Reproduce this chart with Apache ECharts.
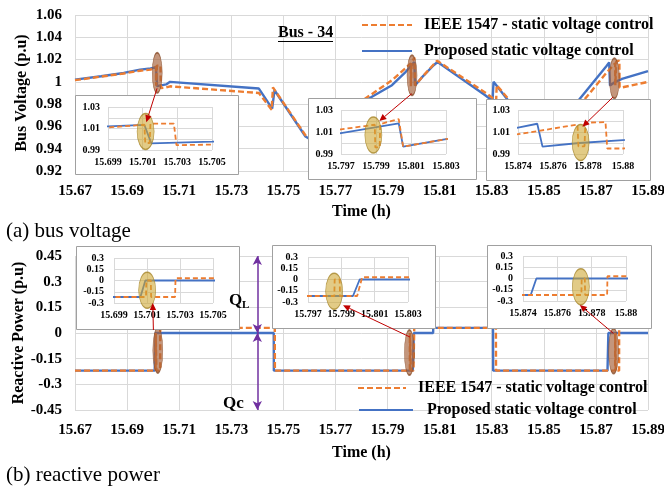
<!DOCTYPE html>
<html><head><meta charset="utf-8">
<script src="https://cdn.jsdelivr.net/npm/echarts@6/dist/echarts.min.js"></script>
<style>html,body{margin:0;padding:0;background:#fff}#c{width:664px;height:487px}</style>
</head><body><div id="c"></div>
<script>
// ---------------- DATA ----------------
const IEEE = 'IEEE 1547 - static voltage control';
const PROP = 'Proposed static voltage control';
const voltageAxisTitle = 'Bus Voltage (p.u)';
const reactiveAxisTitle = 'Reactive Power (p.u)';

const mainTimeTicks = [15.67,15.69,15.71,15.73,15.75,15.77,15.79,15.81,15.83,15.85,15.87,15.89];
const voltageTicks = [0.92,0.94,0.96,0.98,1.00,1.02,1.04,1.06];
const reactiveTicks = [-0.45,-0.3,-0.15,0,0.15,0.3,0.45];
const insetTimeTicks1 = [15.699,15.701,15.703,15.705];
const insetTimeTicks2 = [15.797,15.799,15.801,15.803];
const insetTimeTicks3 = [15.874,15.876,15.878,15.88];
const insetVoltageTicks = [0.99,1.01,1.03];
const insetVoltageGrid = [0.99,1.00,1.01,1.02,1.03];
const insetReactiveTicks = [-0.3,-0.15,0,0.15,0.3];

// Bus voltage (p.u) — [time (h), value]
const voltageProposed = [
  [15.670,1.002],[15.680,1.005],[15.6887,1.008],[15.695,1.011],[15.699,1.012],
  [15.7011,1.0133],[15.7015,0.9962],[15.705,0.9977],[15.7065,1.000],
  [15.7406,0.994],[15.7457,0.976],[15.7466,0.9925],[15.7585,0.951],
  [15.7620,0.946],[15.7700,0.963],[15.7820,0.984],[15.7917,0.997],
  [15.797,1.009],[15.8003,1.0179],[15.80055,0.9967],[15.803,1.0035],
  [15.8077,1.0149],[15.8080,1.0140],[15.8092,1.0178],[15.8275,0.988],
  [15.8303,0.983],[15.8307,1.000],[15.8364,0.983],[15.8445,0.957],
  [15.8632,0.983],[15.874,1.014],[15.8751,1.0175],[15.8754,0.9967],
  [15.8775,1.000],[15.880,1.0027],[15.890,1.0097]
];
const voltageIEEE = [
  [15.670,1.0015],[15.6887,1.0075],[15.695,1.0100],[15.699,1.011],
  [15.7011,1.0135],[15.70115,0.9965],[15.7014,0.9965],[15.70145,1.0146],
  [15.7028,1.0146],[15.70295,0.9945],[15.705,0.9950],[15.7065,0.996],
  [15.7406,0.990],[15.7455,0.975],[15.7460,0.995],[15.7585,0.952],
  [15.7620,0.947],[15.7700,0.966],[15.7808,0.984],[15.7917,1.0014],
  [15.797,1.0124],[15.79893,1.0166],[15.79896,0.996],[15.79921,0.996],
  [15.79924,1.0172],[15.8003,1.0218],[15.80055,0.9967],[15.803,1.0035],
  [15.809,1.019],[15.8281,0.9895],[15.8317,0.983],[15.8319,0.997],
  [15.837,0.983],[15.8450,0.957],[15.8652,0.983],[15.874,1.008],
  [15.8774,1.0167],[15.87745,0.997],[15.8778,0.997],[15.87785,1.0185],
  [15.8790,1.019],[15.8791,0.995],[15.880,0.995],[15.890,1.000]
];
// Reactive power (p.u)
const reactiveProposed = [
  [15.670,-0.22],[15.7006,-0.22],[15.7009,0],[15.7463,0],[15.74635,-0.22],
  [15.7997,-0.22],[15.8001,0],[15.8075,0],[15.80755,0.03],[15.8305,0.03],
  [15.83055,-0.22],[15.87445,-0.22],[15.87478,0],[15.890,0]
];
const reactiveIEEE = [
  [15.670,-0.22],[15.70094,-0.22],[15.70096,0],[15.70123,0],[15.70125,-0.22],
  [15.7027,-0.22],[15.70273,0.03],[15.7467,0.03],[15.74675,-0.22],
  [15.79858,-0.22],[15.7986,0],[15.7989,0],[15.79892,-0.22],
  [15.79995,-0.22],[15.80025,0.03],[15.8316,0.03],[15.83165,-0.22],
  [15.8774,-0.22],[15.87742,0],[15.8776,0],[15.87762,-0.22],
  [15.8789,-0.22],[15.87892,0.03],[15.890,0.03]
];

// Highlight ellipses (data coordinates of their own panel)
const voltageHighlights = [[15.70156,1.0081],[15.7994,1.0059],[15.8771,1.0032]];
const reactiveHighlights = [[15.7018,-0.102],[15.7984,-0.114],[15.8768,-0.105]];
const insetVoltageHighlights = [[15.70117,1.0073],[15.79885,1.0073],[15.87758,1.0005]];
const insetReactiveHighlights = [[15.70101,-0.13],[15.79857,-0.157],[15.87737,-0.109]];
// Callout arrows: [panel, point] -> [panel, point]
const calloutArrows = [
  [[0,[15.7015,0.9942]],[2,[15.70121,1.0159]]],
  [[0,[15.7993,0.9894]],[3,[15.79919,1.020]]],
  [[0,[15.8766,0.9864]],[4,[15.87768,1.0148]]],
  [[1,[15.7001,0.0175]],[5,[15.70135,-0.30]]],
  [[1,[15.7986,-0.0234]],[6,[15.7991,-0.344]]],
  [[1,[15.8767,-0.002]],[7,[15.87731,-0.353]]]
];
const qRangeTime = 15.74;

// ---------------- STYLE / LAYOUT ----------------
const FONT = '"Liberation Serif","Times New Roman",serif';
const BLUE = '#4472C4', ORANGE = '#ED7D31';
const GRIDC = '#d9d9d9';
const step = t => +(t[1]-t[0]).toFixed(6);
const near = (arr, v) => arr.find(t => Math.abs(t - v) < 1e-6);

const grids = [
  {left:75, top:15, width:573, height:156},
  {left:75, top:256, width:573, height:154},
  {left:108, top:107, width:104, height:43},
  {left:341, top:110, width:105, height:44},
  {left:518, top:110, width:105, height:44},
  {left:114, top:258, width:99, height:45},
  {left:308, top:257, width:100, height:45},
  {left:523, top:256, width:103, height:45}
].map((g,i) => Object.assign({show:false, containLabel:false, outerBoundsMode:'none', zlevel: i<2?0:1}, g));

function mainX(gi, nameGap) {
  return {type:'value', gridIndex:gi, min:mainTimeTicks[0], max:mainTimeTicks[mainTimeTicks.length-1],
    interval:step(mainTimeTicks), axisLine:{show:false}, axisTick:{show:false},
    splitLine:{show:true, lineStyle:{color:GRIDC, width:1}},
    axisLabel:{fontFamily:FONT, fontSize:15, fontWeight:'bold', color:'#000', margin:13,
      showMinLabel:true, showMaxLabel:true, formatter:v=>v.toFixed(2)},
    name:'Time (h)', nameLocation:'middle', nameGap:nameGap,
    nameTextStyle:{fontFamily:FONT, fontSize:16, fontWeight:'bold', color:'#000'}};
}
function mainY(gi, ticks) {
  return {type:'value', gridIndex:gi, min:ticks[0], max:ticks[ticks.length-1], interval:step(ticks),
    axisLine:{show:false}, axisTick:{show:false},
    splitLine:{show:true, lineStyle:{color:GRIDC, width:1}},
    axisLabel:{fontFamily:FONT, fontSize:15, fontWeight:'bold', color:'#000', margin:13,
      formatter:v=>String(+v.toFixed(2))}};
}
const insetLabel = {fontFamily:FONT, fontSize:10, fontWeight:'bold', color:'#000'};
function insetX(gi, ticks) {
  return {type:'value', gridIndex:gi, zlevel:1, z:2, min:ticks[0], max:ticks[ticks.length-1], interval:step(ticks),
    axisLine:{show:false}, axisTick:{show:false},
    splitLine:{show:true, lineStyle:{color:GRIDC, width:1}},
    axisLabel:Object.assign({margin:7, showMinLabel:true, showMaxLabel:true, formatter:v=>String(+v.toFixed(3))}, insetLabel)};
}
function insetY(gi, gridTicks, labelTicks, margin) {
  return {type:'value', gridIndex:gi, zlevel:1, z:2, min:gridTicks[0], max:gridTicks[gridTicks.length-1], interval:step(gridTicks),
    axisLine:{show:false}, axisTick:{show:false},
    splitLine:{show:true, lineStyle:{color:GRIDC, width:1}},
    axisLabel:Object.assign({margin:margin, formatter:v=>{const t=near(labelTicks,v); return t===undefined?'':String(t);}}, insetLabel)};
}

const xAxes = [mainX(0,33), mainX(1,35),
  insetX(2,insetTimeTicks1), insetX(3,insetTimeTicks2), insetX(4,insetTimeTicks3),
  insetX(5,insetTimeTicks1), insetX(6,insetTimeTicks2), insetX(7,insetTimeTicks3)];
const yAxes = [mainY(0,voltageTicks), mainY(1,reactiveTicks),
  insetY(2,insetVoltageGrid,insetVoltageTicks,8), insetY(3,insetVoltageGrid,insetVoltageTicks,8), insetY(4,insetVoltageGrid,insetVoltageTicks,8),
  insetY(5,insetReactiveTicks,insetReactiveTicks,10), insetY(6,insetReactiveTicks,insetReactiveTicks,10), insetY(7,insetReactiveTicks,insetReactiveTicks,10)];

function lineSeries(name, data, gi, inset) {
  const isIEEE = name === IEEE;
  return {type:'line', name:name, data:data, xAxisIndex:gi, yAxisIndex:gi,
    zlevel: inset?1:0, z: (inset?5:2) + (isIEEE?1:0),
    symbol:'none', showSymbol:false, clip:true, silent:true, animation:false,
    lineStyle:{color:isIEEE?ORANGE:BLUE, width:inset?1.8:2.4, type:isIEEE?(inset?[5,3]:[6,3]):'solid'},
    itemStyle:{color:isIEEE?ORANGE:BLUE}};
}
function ellipseSeries(data, gi, inset) {
  return {type:'scatter', data:data, xAxisIndex:gi, yAxisIndex:gi, silent:true, animation:false,
    zlevel: inset?1:0, z: inset?10:6, symbol:'circle',
    symbolSize: inset ? [17,36] : (gi===0 ? [10,40] : [10,45]),
    itemStyle: inset ? {color:'rgba(205,165,45,0.72)', borderColor:'#a6862a', borderWidth:1}
                     : {color:'rgba(165,95,55,0.82)', borderColor:'#8a4f2c', borderWidth:1}};
}

const series = [
  lineSeries(PROP, voltageProposed, 0, false),
  lineSeries(IEEE, voltageIEEE, 0, false),
  Object.assign(lineSeries(PROP, reactiveProposed, 1, false), {
    markLine:{silent:true, animation:false, symbol:['arrow','arrow'], symbolSize:[7,9],
      lineStyle:{color:'#7030A0', width:1.5, type:'solid'}, label:{show:false},
      data:[[{coord:[qRangeTime, reactiveTicks[reactiveTicks.length-1]]},{coord:[qRangeTime,0]}],
            [{coord:[qRangeTime,0]},{coord:[qRangeTime, reactiveTicks[0]]}]]}}),
  lineSeries(IEEE, reactiveIEEE, 1, false),
  ellipseSeries(voltageHighlights, 0, false),
  ellipseSeries(reactiveHighlights, 1, false)
];
[2,3,4].forEach((gi,k) => {
  series.push(lineSeries(PROP, voltageProposed, gi, true));
  series.push(lineSeries(IEEE, voltageIEEE, gi, true));
  series.push(ellipseSeries([insetVoltageHighlights[k]], gi, true));
});
[5,6,7].forEach((gi,k) => {
  series.push(lineSeries(PROP, reactiveProposed, gi, true));
  series.push(lineSeries(IEEE, reactiveIEEE, gi, true));
  series.push(ellipseSeries([insetReactiveHighlights[k]], gi, true));
});

const legendText = {fontFamily:FONT, fontSize:16, fontWeight:'bold', color:'#000', lineHeight:14};
const legends = [
  {data:[IEEE, PROP], orient:'vertical', left:361, top:17, padding:0, itemWidth:50, itemHeight:14, itemGap:10,
   selectedMode:false, itemStyle:{opacity:0}, textStyle:Object.assign({padding:[0,0,0,7]}, legendText)},
  {data:[IEEE], orient:'vertical', left:357, top:380, padding:0, itemWidth:48, itemHeight:14,
   selectedMode:false, itemStyle:{opacity:0}, textStyle:Object.assign({padding:[0,0,0,7]}, legendText)},
  {data:[PROP], orient:'vertical', left:358, top:402, padding:0, itemWidth:54, itemHeight:14,
   selectedMode:false, itemStyle:{opacity:0}, textStyle:Object.assign({padding:[0,0,0,9]}, legendText)}
];

const chart = echarts.init(document.getElementById('c'), null, {renderer:'canvas'});
chart.setOption({animation:false, backgroundColor:'#fff', grid:grids, xAxis:xAxes, yAxis:yAxes, legend:legends, series:series});

// ---------------- DECORATION ----------------
const insetBoxes = [[75,95,163,79],[308,98,168,81],[486,99,164,81],[76,246,163,83],[272,245,163,83],[487,245,164,83]];
const els = [];
insetBoxes.forEach(b => els.push({type:'rect', zlevel:1, z:0, silent:true,
  shape:{x:b[0]+0.5, y:b[1]+0.5, width:b[2], height:b[3]},
  style:{fill:'#fff', stroke:'#a0a0a0', lineWidth:1}}));
const capFont = (size, weight) => ({fontFamily:FONT, fontSize:size, fontWeight:weight, fill:'#000'});
els.push({type:'text', x:22, y:93, rotation:Math.PI/2, silent:true,
  style:Object.assign({text:voltageAxisTitle, align:'center', verticalAlign:'middle'}, capFont(16,'bold'))});
els.push({type:'text', x:19, y:333, rotation:Math.PI/2, silent:true,
  style:Object.assign({text:reactiveAxisTitle, align:'center', verticalAlign:'middle'}, capFont(16,'bold'))});
els.push({type:'text', left:6, top:221, silent:true, style:Object.assign({text:'(a) bus voltage'}, capFont(21,'normal'))});
els.push({type:'text', left:6, top:465, silent:true, style:Object.assign({text:'(b) reactive power'}, capFont(21,'normal'))});
els.push({type:'text', left:278, top:25, silent:true, style:Object.assign({text:'Bus - 34'}, capFont(16,'bold'))});
els.push({type:'line', silent:true, shape:{x1:278, y1:41.5, x2:333, y2:41.5}, style:{stroke:'#000', lineWidth:1.2}});
els.push({type:'text', left:229, top:292, zlevel:1, z:60, silent:true, style:Object.assign({text:'Q'}, capFont(17,'bold'))});
els.push({type:'text', left:242, top:300, zlevel:1, z:60, silent:true, style:Object.assign({text:'L'}, capFont(11,'bold'))});
els.push({type:'text', left:223, top:395, silent:true, style:Object.assign({text:'Qc'}, capFont(17,'bold'))});

function toPx(p) { return chart.convertToPixel({xAxisIndex:p[0], yAxisIndex:p[0]}, p[1]); }
calloutArrows.forEach(a => {
  const p1 = toPx(a[0]), p2 = toPx(a[1]);
  const dx = p2[0]-p1[0], dy = p2[1]-p1[1], len = Math.hypot(dx,dy) || 1;
  const ux = dx/len, uy = dy/len, L = 7, W = 3.2;
  const bx = p2[0]-ux*L, by = p2[1]-uy*L;
  els.push({type:'line', zlevel:1, z:50, silent:true, shape:{x1:p1[0], y1:p1[1], x2:bx, y2:by}, style:{stroke:'#C00000', lineWidth:1}});
  els.push({type:'polygon', zlevel:1, z:50, silent:true, shape:{points:[[p2[0],p2[1]],[bx-uy*W,by+ux*W],[bx+uy*W,by-ux*W]]}, style:{fill:'#C00000'}});
});
chart.setOption({graphic:{elements:els}});
</script></body></html>
